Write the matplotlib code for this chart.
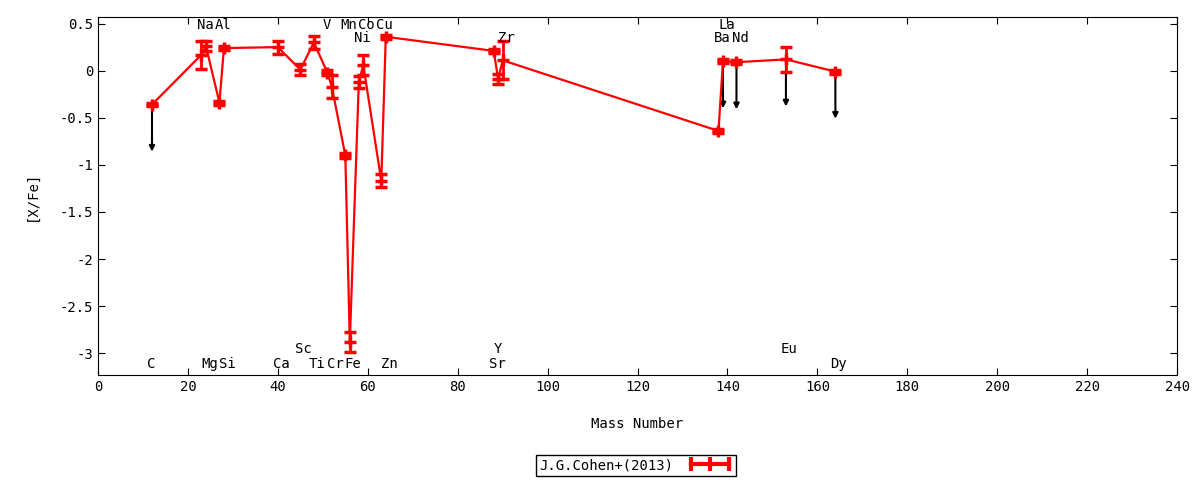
import matplotlib
matplotlib.use('Agg')
import matplotlib.pyplot as plt
from matplotlib.lines import Line2D

plt.rcParams['font.family'] = ['DejaVu Sans Mono']
plt.rcParams['font.size'] = 10

# J.G.Cohen+(2013) abundances, sorted by mass number
elements = ['C', 'Na', 'Mg', 'Al', 'Si', 'Ca', 'Sc', 'Ti', 'V', 'Cr', 'Mn', 'Fe',
            'Ni', 'Co', 'Cu', 'Zn', 'Sr', 'Y', 'Zr', 'Ba', 'La', 'Nd', 'Eu', 'Dy']
mass = [12, 23, 24, 27, 28, 40, 45, 48, 51, 52, 55, 56,
        58, 59, 63, 64, 88, 89, 90, 138, 139, 142, 153, 164]
values = [-0.36, 0.17, 0.26, -0.34, 0.24, 0.25, 0.01, 0.30, -0.02, -0.17, -0.90, -2.88,
          -0.12, 0.06, -1.17, 0.36, 0.21, -0.09, 0.11, -0.64, 0.10, 0.09, 0.12, -0.01]
errors = [0.02, 0.15, 0.05, 0.02, 0.02, 0.07, 0.06, 0.07, 0.03, 0.12, 0.03, 0.11,
          0.06, 0.11, 0.07, 0.02, 0.02, 0.05, 0.20, 0.02, 0.02, 0.02, 0.13, 0.02]
upper_limits = ['C', 'La', 'Nd', 'Eu', 'Dy']
# label row for each element: 't' top, 't2' second top, 'b' bottom, 'b2' second bottom
label_rows = ['b', 't', 'b', 't', 'b', 'b', 'b2', 'b', 't', 'b', 't', 'b',
              't2', 't', 't', 'b', 'b', 'b2', 't2', 't2', 't', 't2', 'b2', 'b']
row_y = {'t': 0.485, 't2': 0.345, 'b': -3.11, 'b2': -2.95}

fig = plt.figure(figsize=(12, 4.8), dpi=100)
ax = fig.add_axes([0.0817, 0.219, 0.8992, 0.7456])

# upper limit arrows
for el, m, v in zip(elements, mass, values):
    if el in upper_limits:
        ax.annotate('', xy=(m, v - 0.5), xytext=(m, v),
                    arrowprops=dict(arrowstyle='-|>', color='black', lw=1.5,
                                    mutation_scale=8, shrinkA=0, shrinkB=0),
                    zorder=2)

ax.errorbar(mass, values, yerr=errors, color='red', lw=1.6, elinewidth=2,
            capsize=4, capthick=2.5, marker='+', markersize=8, mew=2.5, zorder=3)

for el, m, r in zip(elements, mass, label_rows):
    ax.text(m - 1.1, row_y[r], el, ha='left', va='center')

ax.set_xlim(0, 240)
ax.set_ylim(-3.23, 0.57)
ax.set_xticks(range(0, 241, 20))
ax.set_yticks([0.5, 0, -0.5, -1, -1.5, -2, -2.5, -3])
ax.set_yticklabels(['0.5', '0', '-0.5', '-1', '-1.5', '-2', '-2.5', '-3'])
ax.tick_params(direction='in', top=True, right=True, length=5, labelsize=10)
ax.set_xlabel('Mass Number', labelpad=17)
ax.set_ylabel('[X/Fe]', labelpad=15)

handle = Line2D([], [], color='red', lw=3, marker='|', markersize=10, mew=3)
leg = fig.legend([handle], ['J.G.Cohen+(2013)'], loc='center',
                 bbox_to_anchor=(0.53, 0.031), numpoints=3, markerfirst=False,
                 fancybox=False, framealpha=1, edgecolor='black',
                 handlelength=3.3, borderpad=0.25, handletextpad=1.0)
leg.get_frame().set_linewidth(1)

fig.savefig('out.png', dpi=100)
